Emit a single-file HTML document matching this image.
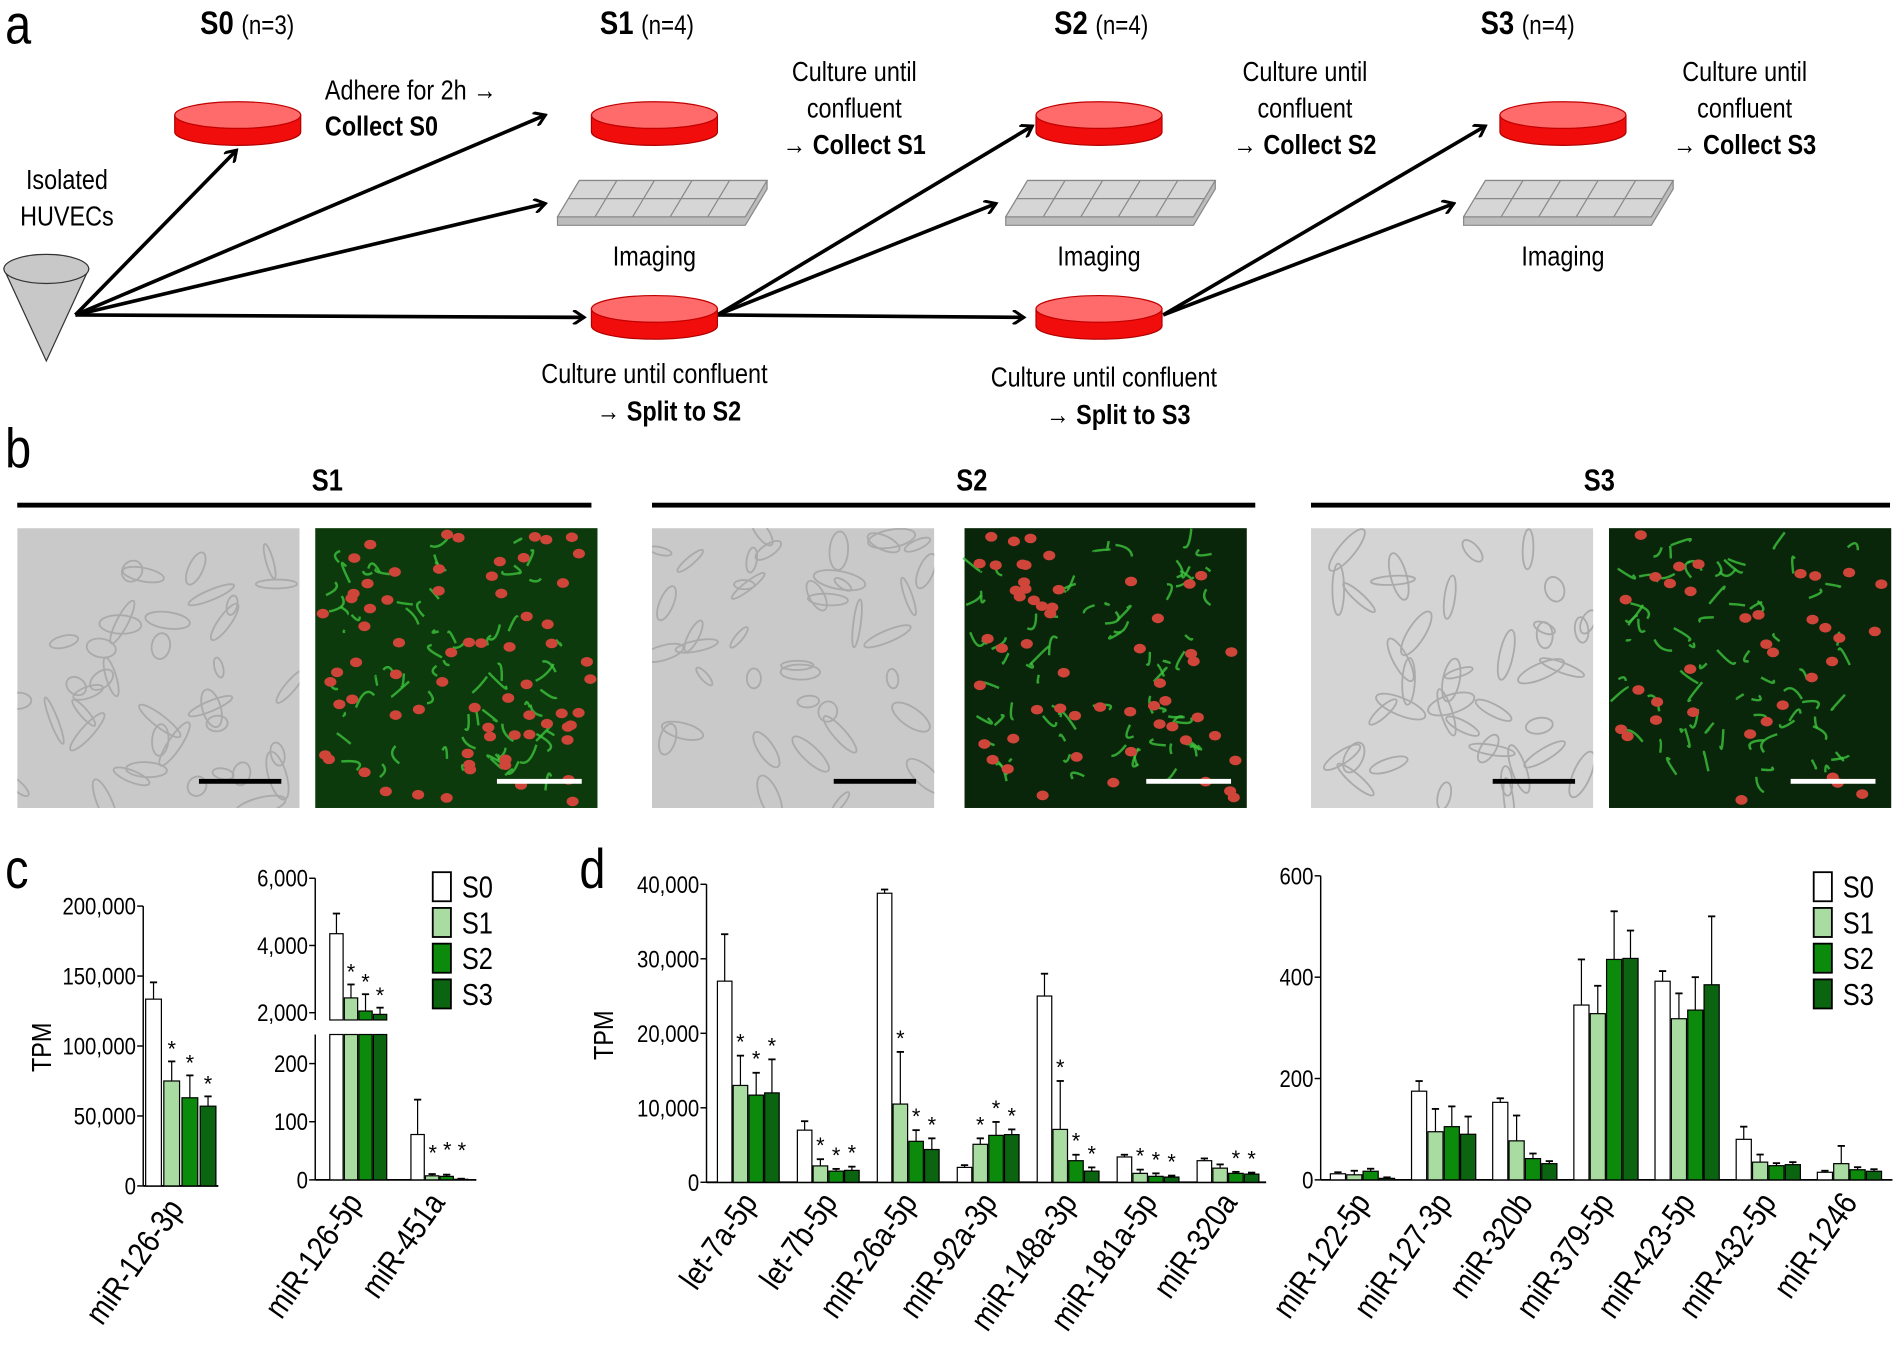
<!DOCTYPE html>
<html><head><meta charset="utf-8"><style>
html,body{margin:0;padding:0;background:#fff}
svg{display:block;font-family:"Liberation Sans",sans-serif}
</style></head><body>
<svg id="s" width="1900" height="1364" viewBox="0 0 1568 1126" xmlns="http://www.w3.org/2000/svg">
<defs>
<marker id="ah" markerWidth="12" markerHeight="12" refX="10" refY="6" orient="auto" markerUnits="userSpaceOnUse">
<path d="M1,0 L10,6 L1,12" fill="none" stroke="#000" stroke-width="2.5"/></marker>
<clipPath id="c0"><rect x="14" y="436" width="233" height="231"/></clipPath>
<clipPath id="c1"><rect x="538" y="436" width="233" height="231"/></clipPath>
<clipPath id="c2"><rect x="1082" y="436" width="233" height="231"/></clipPath>
</defs>
<rect width="1568" height="1126" fill="#fff"/>
<g id="a" font-size="23"></g>
<g id="b"></g>
<g id="b0" clip-path="url(#c0)"></g>
<g id="b1" clip-path="url(#c1)"></g>
<g id="b2" clip-path="url(#c2)"></g>
<g id="bt"></g>
<g id="c"></g>
</svg>
<script>
const NS="http://www.w3.org/2000/svg";
const SX=0.84;
function el(p,tag,at,txt){const e=document.createElementNS(NS,tag);for(const k in at)e.setAttribute(k,at[k]);if(txt!==undefined)e.textContent=txt;document.getElementById(p).appendChild(e);return e;}
function tx(p,x,y,s,at,rot){at=Object.assign({},at||{});at.x=0;at.y=0;
 at.transform=`translate(${x} ${y})`+(rot?` rotate(${rot})`:'')+` scale(${SX} 1)`;return el(p,'text',at,s);}
function span(t,s,at){const e=document.createElementNS(NS,'tspan');for(const k in at)e.setAttribute(k,at[k]);e.textContent=s;t.appendChild(e);}
const A='a';
tx(A,4,36,'a',{'font-size':46});
[[165,'S0','(n=3)'],[495,'S1','(n=4)'],[870,'S2','(n=4)'],[1222,'S3','(n=4)']].forEach(([x,a,b])=>{
 const t=tx(A,x,28,'',{'font-size':27});span(t,a+' ',{'font-weight':'bold'});span(t,b,{'font-size':22});});
function dish(cx,cy){el(A,'path',{d:`M${cx-52},${cy} L${cx-52},${cy+14} A52,11 0 0 0 ${cx+52},${cy+14} L${cx+52},${cy} Z`,fill:'#f20d0d',stroke:'#b00000','stroke-width':1});
 el(A,'ellipse',{cx:cx,cy:cy,rx:52,ry:11,fill:'#ff6a6a',stroke:'#c00000','stroke-width':1});}
function plate(x,y){el(A,'polygon',{points:`${x+18},${y} ${x+173},${y} ${x+173},${y+7} ${x+155},${y+37} ${x},${y+37} ${x},${y+30}`,fill:'#bcbcbc',stroke:'#888'});
 el(A,'polygon',{points:`${x+18},${y} ${x+173},${y} ${x+155},${y+30} ${x},${y+30}`,fill:'#d6d6d6',stroke:'#888'});
 el(A,'line',{x1:x+9,y1:y+15,x2:x+164,y2:y+15,stroke:'#888'});
 for(let i=1;i<5;i++){const dx=i*31;el(A,'line',{x1:x+18+dx,y1:y,x2:x+dx,y2:y+30,stroke:'#888'});}}
el(A,'polygon',{points:'3,222 73,222 38,298',fill:'#c8c8c8',stroke:'#333'});
el(A,'ellipse',{cx:38,cy:222,rx:35,ry:12,fill:'#c8c8c8',stroke:'#333'});
function arr(x1,y1,x2,y2){el(A,'line',{x1,y1,x2,y2,stroke:'#000','stroke-width':3,'marker-end':'url(#ah)'});}
arr(62,260,195,124);arr(62,260,450,95);arr(62,260,450,168);arr(62,260,482,262);
arr(592,260,852,104);arr(592,260,822,168);arr(592,260,845,262);
arr(960,260,1226,104);arr(960,260,1200,168);
dish(196,95);dish(540,95);dish(907,95);dish(1290,95);dish(540,255);dish(907,255);
plate(460,149);plate(830,149);plate(1208,149);
[540,907,1290].forEach(x=>tx(A,x,219,'Imaging',{'text-anchor':'middle'}));
tx(A,55,156,'Isolated',{'text-anchor':'middle'});tx(A,55,186,'HUVECs',{'text-anchor':'middle'});
tx(A,268,82,'Adhere for 2h →');tx(A,268,112,'Collect S0',{'font-weight':'bold'});
[[705,'S1'],[1077,'S2'],[1440,'S3']].forEach(([x,s])=>{tx(A,x,67,'Culture until',{'text-anchor':'middle'});tx(A,x,97,'confluent',{'text-anchor':'middle'});
 const t=tx(A,x,127,'→ ',{'text-anchor':'middle'});span(t,'Collect '+s,{'font-weight':'bold'});});
[[540,316,'S2'],[911,319,'S3']].forEach(([x,y,s])=>{tx(A,x,y,'Culture until confluent',{'text-anchor':'middle'});
 const t=tx(A,x+12,y+31,'→ ',{'text-anchor':'middle'});span(t,'Split to '+s,{'font-weight':'bold'});});
const B='b';
tx(B,4,386,'b',{'font-size':46});
let seed=7;function rnd(){seed=(seed*16807)%2147483647;return seed/2147483647;}
[[270,14,488,'S1',[14,260]],[802,538,1036,'S2',[538,796]],[1320,1082,1560,'S3',[1082,1328]]].forEach(([cx,l,r,s,xs],k)=>{
 tx(B,cx,405,s,{'text-anchor':'middle','font-weight':'bold','font-size':25});
 el(B,'rect',{x:l,y:415,width:r-l,height:4,fill:'#000'});
 const gx=xs[0],fx=xs[1],w=233,G='b'+k;
 el(G,'rect',{x:gx,y:436,width:w,height:231,fill:k==2?'#d4d4d4':'#c9c9c9'});
 for(let i=0;i<40;i++){const x=gx+rnd()*w,y=436+rnd()*231;el(G,'ellipse',{cx:x,cy:y,rx:8+rnd()*14,ry:3+rnd()*5,fill:'none',stroke:'#aaa','stroke-width':1.5,transform:`rotate(${rnd()*180-90} ${x} ${y})`});}
 el('bt','rect',{x:gx+150,y:643,width:68,height:4,fill:'#000'});
 el(B,'rect',{x:fx,y:436,width:w,height:231,fill:k==0?'#0d3a0d':'#0a260a'});
 for(let i=0;i<70;i++){const x=fx+10+rnd()*(w-40),y=446+rnd()*200;el(B,'path',{d:`M${x},${y} q${rnd()*20-10},${rnd()*20-10} ${rnd()*30-15},${rnd()*30-15}`,stroke:'#3cc43c','stroke-width':2,fill:'none',opacity:.8});}
 const n=k==0?70:(k==1?55:35);
 for(let i=0;i<n;i++){el(B,'ellipse',{cx:fx+5+rnd()*(w-10),cy:441+rnd()*221,rx:5,ry:4,fill:'#d0453a'});}
 el('bt','rect',{x:fx+150,y:643,width:70,height:4,fill:'#fff'});
});
const C='c';
function line(x1,y1,x2,y2,w){el(C,'line',{x1,y1,x2,y2,stroke:'#000','stroke-width':w||1.2});}
const cols=['#ffffff','#a9dca0','#0b8a0b','#0a6410'];
function bar(x,w,ytop,ybase,c,yerr){if(yerr!==null&&yerr!==undefined){line(x+w/2,ytop,x+w/2,yerr,1);line(x+w/2-3,yerr,x+w/2+3,yerr,1.5);}
 el(C,'rect',{x:x,y:ytop,width:w,height:Math.max(0,ybase-ytop),fill:c,stroke:'#000','stroke-width':1});}
function star(x,y){el(C,'text',{x:x,y:y,'text-anchor':'middle','font-size':18},'*');}
function ylab(x,y,s){tx(C,x-6,y+7,s,{'text-anchor':'end','font-size':20});line(x-5,y,x,y);}
function xlab(x,y,s){tx(C,x,y,s,{'text-anchor':'end','font-size':27},-55);}
tx(C,4,733,'c',{'font-size':46});tx(C,478,733,'d',{'font-size':46});
tx(C,42,885,'TPM',{'font-size':23},-90);
tx(C,506,875,'TPM',{'font-size':23},-90);
{const y0=979,top=748,sc=(y0-top)/200000,ax=118;
 line(ax,top,ax,y0);line(ax,y0,180,y0,1.5);
 [0,50000,100000,150000,200000].forEach(v=>ylab(ax,y0-v*sc,v.toLocaleString('en-US')));
 const d=[[133500,12000],[75000,14000],[63000,16000],[57000,7000]];
 d.forEach(([v,e],i)=>{const x=120+i*15;bar(x,13,y0-v*sc,y0,cols[i],y0-(v+e)*sc);if(i)star(x+6.5,y0-(v+e)*sc-4);});
 xlab(152,998,'miR-126-3p');}
{const ax=260,y0=974,lsc=(974-878)/200,usc=(836-725)/4000;const uy=v=>836-(v-2000)*usc;
 line(ax,725,ax,842);line(ax,854,ax,y0);line(ax,y0,393,y0,1.5);
 [2000,4000,6000].forEach(v=>ylab(ax,uy(v),v.toLocaleString('en-US')));
 [0,100,200].forEach(v=>ylab(ax,y0-v*lsc,String(v)));
 const d=[[4350,600],[2440,400],[2050,500],[1950,200]];
 d.forEach(([v,e],i)=>{const x=272+i*12;bar(x,11,uy(v),842,cols[i],uy(v+e));bar(x,11,854,y0,cols[i],null);if(i)star(x+5.5,uy(v+e)-4);});
 el(C,'rect',{x:254,y:843,width:70,height:10,fill:'#fff'});
 const d2=[[78,60],[7,3],[6,3],[1,1]];
 d2.forEach(([v,e],i)=>{const x=339+i*12;bar(x,11,y0-v*lsc,y0,cols[i],y0-(v+e)*lsc);if(i)star(x+6,y0-(v+e)*lsc-8-i*3);});
 xlab(300,993,'miR-126-5p');xlab(368,993,'miR-451a');}
function legend(x){['S0','S1','S2','S3'].forEach((s,i)=>{const y=720+i*29.5;el(C,'rect',{x:x,y:y,width:15,height:24,fill:cols[i],stroke:'#000','stroke-width':1.5});tx(C,x+24,y+21,s,{'font-size':25});});}
legend(357);legend(1497);
{const ax=583,y0=976,top=730,sc=(y0-top)/40000;
 line(ax,top,ax,y0);line(ax,y0,1045,y0,1.5);
 [0,10000,20000,30000,40000].forEach(v=>ylab(ax,y0-v*sc,v.toLocaleString('en-US')));
 const D=[['let-7a-5p',[[27000,6300],[13000,4000],[11700,3000],[12000,4500]],[1,2,3]],
 ['let-7b-5p',[[7000,1200],[2200,900],[1500,300],[1600,500]],[1,2,3]],
 ['miR-26a-5p',[[38800,500],[10500,7000],[5500,1500],[4400,1500]],[1,2,3]],
 ['miR-92a-3p',[[2000,300],[5100,800],[6300,1800],[6400,700]],[1,2,3]],
 ['miR-148a-3p',[[25000,3000],[7100,6500],[2900,800],[1500,500]],[1,2,3]],
 ['miR-181a-5p',[[3400,300],[1200,500],[800,400],[700,200]],[1,2,3]],
 ['miR-320a',[[2900,300],[1900,500],[1200,200],[1100,200]],[2,3]]];
 D.forEach(([n,d,st],g)=>{const gx=592+g*66;d.forEach(([v,e],i)=>{const x=gx+i*13;bar(x,12,y0-v*sc,y0,cols[i],y0-(v+e)*sc);if(st.includes(i))star(x+6,y0-(v+e)*sc-5);});
  xlab(gx+34,993,n);});}
{const ax=1090,y0=974,top=723,sc=(y0-top)/600;
 line(ax,top,ax,y0);line(ax,y0,1562,y0,1.5);
 [0,200,400,600].forEach(v=>ylab(ax,y0-v*sc,String(v)));
 const D=[['miR-122-5p',[[12,3],[10,8],[17,5],[3,2]]],['miR-127-3p',[[175,20],[95,45],[105,40],[90,35]]],
 ['miR-320b',[[153,8],[77,50],[42,10],[32,5]]],['miR-379-5p',[[345,90],[328,55],[435,95],[437,55]]],
 ['miR-423-5p',[[392,20],[318,50],[335,65],[385,135]]],['miR-432-5p',[[80,25],[35,15],[28,5],[30,5]]],
 ['miR-1246',[[15,3],[32,35],[20,5],[17,4]]]];
 D.forEach(([n,d],g)=>{const gx=1098+g*67;d.forEach(([v,e],i)=>{const x=gx+i*13.5;bar(x,12.5,y0-v*sc,y0,cols[i],y0-(v+e)*sc);});
  xlab(gx+34,993,n);});}
</script>
</body></html>
